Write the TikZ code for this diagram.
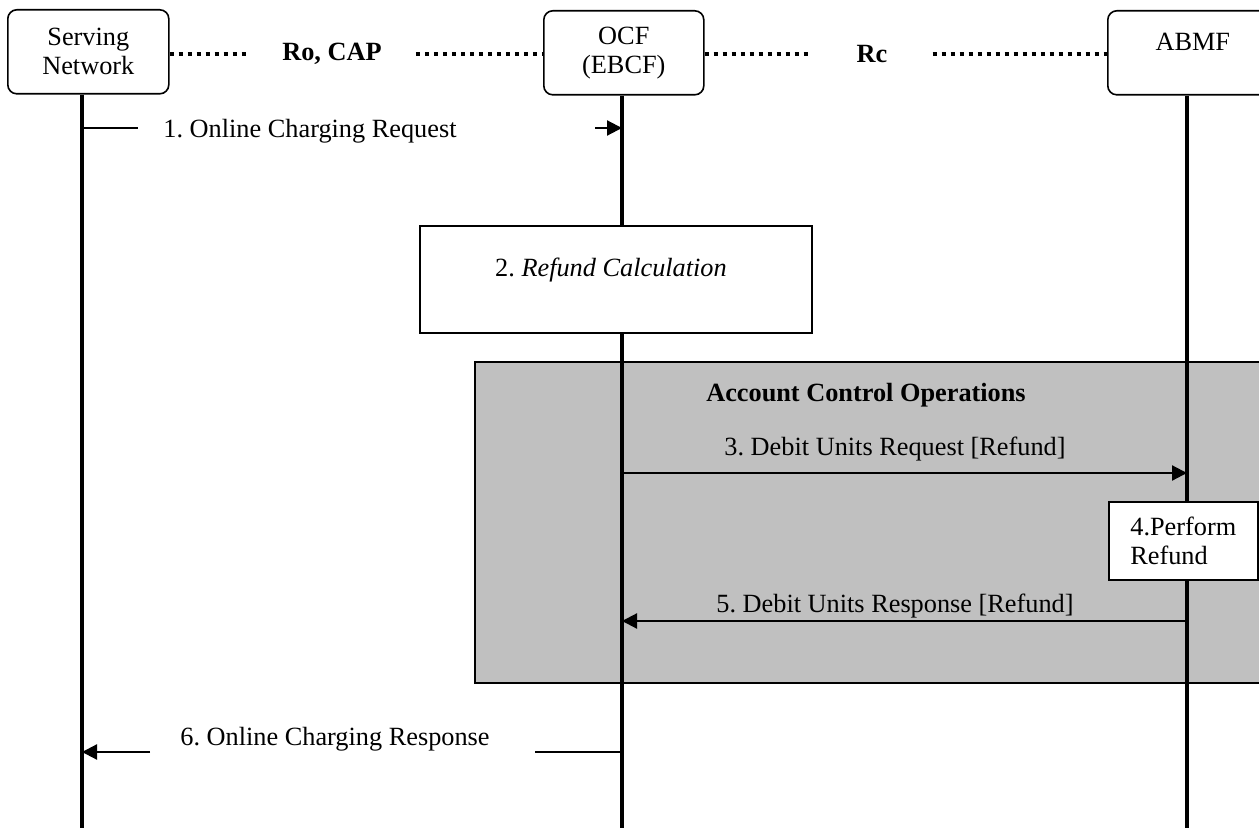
\documentclass[tikz,border=0pt]{standalone}
\usepackage{fontspec}
\setmainfont{Liberation Serif}
\usepackage{xcolor}
\definecolor{grey}{RGB}{192,192,192}
\usepackage{tikz}
\usetikzlibrary{positioning,arrows.meta,calc}
\frenchspacing

\begin{document}
\begin{tikzpicture}[x=1pt,y=-1pt,font=\fontsize{26.3}{29}\selectfont,
        entity/.style={draw,line width=1.6pt,rounded corners=9pt,fill=white,anchor=north west,align=center,inner sep=0pt,minimum height=84pt},
        plainbox/.style={draw,line width=1.6pt,fill=white,anchor=north west,inner sep=0pt},
        lifeline/.style={line width=3.5pt},
        iface/.style={line width=4pt,dash pattern=on 4pt off 5pt},
        ifacelbl/.style={font=\fontsize{26.3}{29}\selectfont\bfseries,inner xsep=34pt},
        msg/.style={line width=2.2pt},
        msgarrow/.style={msg,-{Triangle[length=15pt,width=15pt]}}]
        \useasboundingbox (0,0) rectangle (1259,832);                                   % Seite
        \node[draw,fill=grey,line width=1.6pt,anchor=north west,minimum width=820pt,minimum height=321pt,inner sep=0pt] (acframe) at (474,361) {}; % grauer Bereich
        \node[font=\fontsize{26.3}{29}\selectfont\bfseries] (actitle) at (866,395) {Account Control Operations}; % Titel
        \node[entity,minimum width=161pt] (sn) at (7,9) {Serving\\Network};              % Serving Network
        \node[entity,minimum width=160pt] (ocf) at (543,10) {OCF\\(EBCF)};              % OCF
        \node[entity,minimum width=170pt] (abmf) at (1107,10) {};                       % ABMF
        \node (abmftxt) at ([yshift=11pt]abmf.center) {ABMF};                          % ABMF Text
        \node[ifacelbl] (ro) at (332,54) {Ro, CAP};                                     % Ro, CAP
        \draw[iface] (sn.east |- ro) -- (ro.west);                                      % Ro links
        \draw[iface] (ro.east) -- (ocf.west |- ro);                                     % Ro rechts
        \node[ifacelbl,inner xsep=45pt] (rc) at (872,54) {Rc};                          % Rc
        \draw[iface] (ocf.east |- rc) -- (rc.west);                                     % Rc links
        \draw[iface] (rc.east) -- (abmf.west |- rc);                                    % Rc rechts
        \coordinate (snend) at (82,828);                                                % Lebenslinien Ende
        \coordinate (ocfend) at (622,828);
        \coordinate (abmfend) at (1187,828);
        \draw[lifeline] (snend |- sn.south) -- (snend);                                 % Lebenslinie SN
        \draw[lifeline] (ocfend |- ocf.south) -- (ocfend);                              % Lebenslinie OCF
        \draw[lifeline] (abmfend |- abmf.south) -- (abmfend);                           % Lebenslinie ABMF
        \node[plainbox,minimum width=392pt,minimum height=107pt] (refund) at (419,225) {}; % Refund Box
        \node (refundtxt) at (611,270) {2. \textit{Refund Calculation}};                % Refund Text
        \node[plainbox,minimum width=149pt,minimum height=78pt,align=left] (perform) at (1108,501) {4.Perform\\Refund}; % Perform Refund
        \coordinate (m1s) at (82,128);                                                  % 1. Nachricht
        \coordinate (m1gap) at (138,128);
        \coordinate (m1tail) at (595,128);
        \coordinate (m1e) at (622,128);
        \draw[msg] (m1s) -- (m1gap);
        \node (m1lbl) at (310,131) {1. Online Charging Request};
        \draw[msgarrow] (m1tail) -- (m1e);
        \coordinate (m3s) at (622,473);                                                 % 3. Nachricht
        \coordinate (m3e) at (1187,473);
        \draw[msgarrow] (m3s) -- (m3e);
        \node (m3lbl) at (895,449) {3. Debit Units Request [Refund]};
        \coordinate (m5s) at (1187,621);                                                % 5. Nachricht
        \coordinate (m5e) at (622,621);
        \draw[msgarrow] (m5s) -- (m5e);
        \node (m5lbl) at (895,606) {5. Debit Units Response [Refund]};
        \coordinate (m6s) at (622,752);                                                 % 6. Nachricht
        \coordinate (m6gap) at (535,752);
        \coordinate (m6tail) at (150,752);
        \coordinate (m6e) at (82,752);
        \draw[msg] (m6s) -- (m6gap);
        \node (m6lbl) at (335,739) {6. Online Charging Response};
        \draw[msgarrow] (m6tail) -- (m6e);
    \end{tikzpicture}
\end{document}
